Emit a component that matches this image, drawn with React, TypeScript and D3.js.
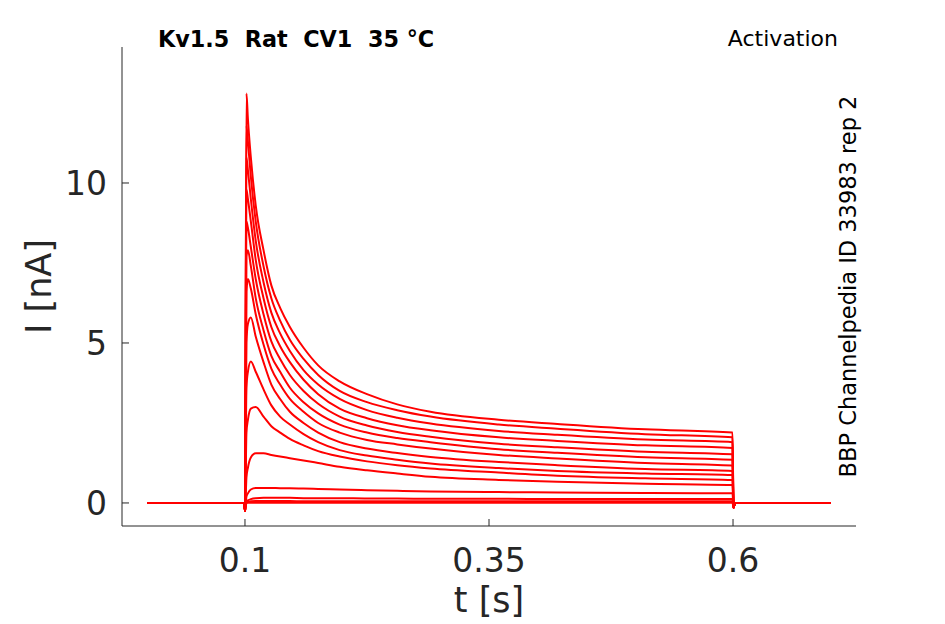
import React from "react";
import * as d3 from "d3";

// sample times (s) shared by all sweeps
const times = [
  0, 0.0995, 0.1, 0.1015, 0.103, 0.106, 0.111, 0.119, 0.127, 0.136, 0.146,
  0.16, 0.175, 0.197, 0.225, 0.256, 0.29, 0.36, 0.42, 0.51, 0.5995, 0.6005,
  0.602, 0.7,
];

// current (nA) per sweep, one value per entry of `times`
const sweeps: number[][] = [
  [0, 0, -0.25, 12.8, 12.0, 10.8, 9.3, 7.9, 6.8, 6.1, 5.5, 4.85, 4.3, 3.8, 3.4, 3.08, 2.85, 2.6, 2.47, 2.3, 2.2, -0.15, 0, 0],
  [0, 0, -0.25, 11.8, 11.3, 10.2, 8.8, 7.4, 6.4, 5.7, 5.1, 4.5, 4.0, 3.5, 3.15, 2.9, 2.7, 2.45, 2.32, 2.15, 2.05, -0.15, 0, 0],
  [0, 0, -0.25, 10.8, 10.4, 9.5, 8.2, 6.9, 5.95, 5.3, 4.75, 4.15, 3.7, 3.25, 2.9, 2.66, 2.48, 2.25, 2.13, 1.98, 1.9, -0.15, 0, 0],
  [0, 0, -0.25, 9.8, 9.5, 8.8, 7.6, 6.4, 5.5, 4.9, 4.4, 3.85, 3.4, 2.95, 2.65, 2.43, 2.27, 2.05, 1.94, 1.8, 1.72, -0.15, 0, 0],
  [0, 0, -0.25, 8.8, 8.6, 8.0, 7.0, 5.9, 5.05, 4.5, 4.0, 3.5, 3.1, 2.7, 2.42, 2.22, 2.07, 1.85, 1.74, 1.6, 1.52, -0.15, 0, 0],
  [0, 0, -0.25, 7.7, 7.9, 7.4, 6.4, 5.4, 4.6, 4.1, 3.6, 3.15, 2.8, 2.45, 2.2, 2.03, 1.9, 1.68, 1.57, 1.43, 1.35, -0.15, 0, 0],
  [0, 0, -0.25, 6.6, 7.0, 6.7, 5.9, 4.95, 4.2, 3.7, 3.25, 2.85, 2.5, 2.2, 1.97, 1.83, 1.7, 1.5, 1.39, 1.25, 1.17, -0.15, 0, 0],
  [0, 0, -0.25, 5.0, 5.6, 5.8, 5.2, 4.4, 3.7, 3.25, 2.85, 2.5, 2.2, 1.9, 1.7, 1.56, 1.44, 1.28, 1.18, 1.06, 1.0, -0.15, 0, 0],
  [0, 0, -0.25, 3.6, 4.1, 4.42, 4.1, 3.55, 3.05, 2.7, 2.45, 2.15, 1.9, 1.65, 1.48, 1.35, 1.23, 1.09, 1.0, 0.92, 0.87, -0.15, 0, 0],
  [0, 0, -0.25, 2.2, 2.6, 2.95, 3.0, 2.7, 2.4, 2.2, 2.0, 1.8, 1.62, 1.45, 1.3, 1.18, 1.08, 0.95, 0.85, 0.77, 0.72, -0.15, 0, 0],
  [0, 0, -0.25, 0.8, 1.1, 1.42, 1.55, 1.55, 1.5, 1.45, 1.4, 1.33, 1.25, 1.13, 1.02, 0.92, 0.82, 0.72, 0.66, 0.6, 0.56, -0.15, 0, 0],
  [0, 0, -0.25, 0.2, 0.3, 0.42, 0.47, 0.47, 0.47, 0.46, 0.46, 0.45, 0.44, 0.42, 0.4, 0.38, 0.36, 0.34, 0.33, 0.31, 0.3, -0.15, 0, 0],
  [0, 0, -0.25, 0.05, 0.08, 0.12, 0.15, 0.16, 0.16, 0.16, 0.16, 0.15, 0.15, 0.15, 0.14, 0.14, 0.13, 0.13, 0.12, 0.12, 0.12, -0.15, 0, 0],
  [0, 0, -0.25, 0.02, 0.03, 0.05, 0.06, 0.06, 0.06, 0.06, 0.06, 0.05, 0.05, 0.05, 0.05, 0.05, 0.05, 0.05, 0.05, 0.05, 0.05, -0.15, 0, 0],
  [0, 0, -0.25, 0, 0.01, 0.01, 0.01, 0.01, 0.01, 0.01, 0.01, 0.01, 0.01, 0.01, 0.01, 0.01, 0.01, 0.01, 0.01, 0.01, 0.01, -0.15, 0, 0],
];

const xTicks = [0.1, 0.35, 0.6];
const yTicks = [0, 5, 10];

const W = 945,
  H = 624;
const axisColor = "#262626";
const font = "DejaVu Sans, sans-serif";

const App: React.FC = () => {
  const x = d3.scaleLinear().domain([-0.026, 0.726]).range([122, 856]);
  const y = d3.scaleLinear().domain([-0.72, 14.25]).range([526, 47]);

  const line = d3
    .line<number>()
    .x((_, i) => x(times[i]))
    .y((d) => y(d))
    .curve(d3.curveMonotoneX);

  const [x0, x1] = x.range();
  const [yb, yt] = y.range();

  return (
    <svg
      width={W}
      height={H}
      style={{ position: "absolute", left: 0, top: 0, background: "#fff" }}
      fontFamily={font}
    >
      <g>
        {sweeps.map((s, i) => (
          <path
            key={i}
            d={line(s) ?? ""}
            fill="none"
            stroke="#ff0000"
            strokeWidth={2}
            strokeLinejoin="round"
          />
        ))}
      </g>

      {/* axes, box off, ticks pointing in */}
      <g stroke={axisColor} strokeWidth={1} fill="none">
        <line x1={x0} x2={x0} y1={yt} y2={yb} />
        <line x1={x0} x2={x1} y1={yb} y2={yb} />
        {xTicks.map((t) => (
          <line key={t} x1={x(t)} x2={x(t)} y1={yb} y2={yb - 7} />
        ))}
        {yTicks.map((t) => (
          <line key={t} x1={x0} x2={x0 + 7} y1={y(t)} y2={y(t)} />
        ))}
      </g>
      <g fill={axisColor} fontSize={33}>
        {xTicks.map((t) => (
          <text key={t} x={x(t)} y={yb + 46} textAnchor="middle">
            {String(t)}
          </text>
        ))}
        {yTicks.map((t) => (
          <text key={t} x={x0 - 15} y={y(t) + 12} textAnchor="end">
            {String(t)}
          </text>
        ))}
      </g>
      <text
        x={(x0 + x1) / 2}
        y={612}
        textAnchor="middle"
        fontSize={35}
        fill={axisColor}
      >
        t [s]
      </text>
      <text
        transform={`translate(51,${(yt + yb) / 2}) rotate(-90)`}
        textAnchor="middle"
        fontSize={35}
        fill={axisColor}
      >
        I [nA]
      </text>

      <text
        x={158}
        y={47}
        fontSize={22.3}
        fontWeight="bold"
        fill="#000"
        style={{ whiteSpace: "pre" }}
      >
        {"Kv1.5  Rat  CV1  35 °C"}
      </text>
      <text x={838} y={46} textAnchor="end" fontSize={22} fill="#000">
        Activation
      </text>
      <text
        transform={`translate(856,${(yt + yb) / 2}) rotate(-90)`}
        textAnchor="middle"
        fontSize={22.5}
        fill="#000"
      >
        BBP Channelpedia ID 33983 rep 2
      </text>
    </svg>
  );
};

export default App;
